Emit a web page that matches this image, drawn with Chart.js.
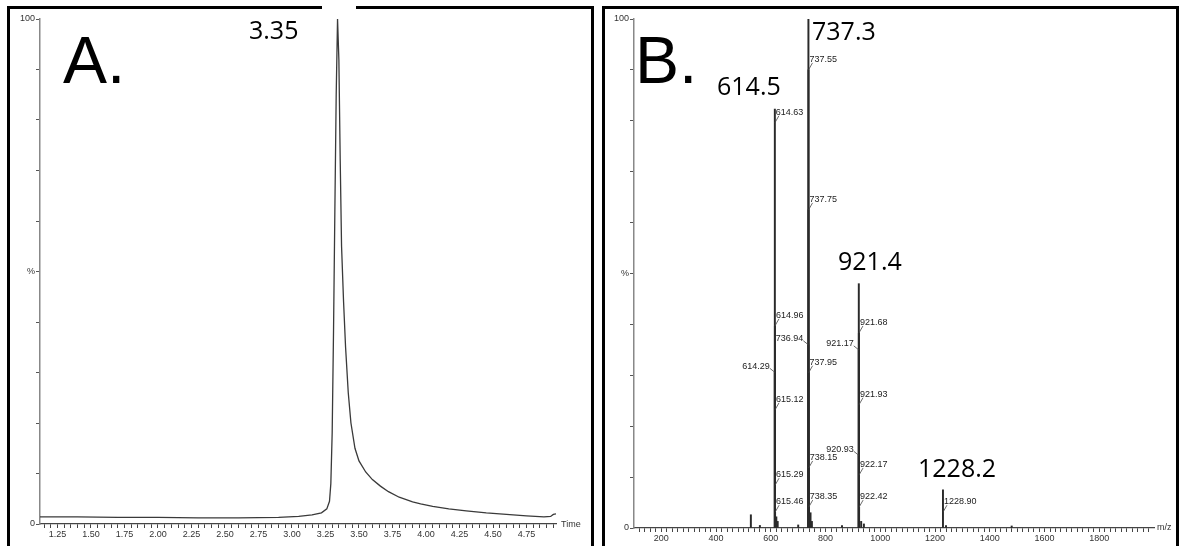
<!DOCTYPE html>
<html>
<head>
<meta charset="utf-8">
<script src="https://cdn.jsdelivr.net/npm/chart.js@4.4.0/dist/chart.umd.min.js"></script>
<style>
  body { margin: 0; background: #fff; width: 1181px; height: 546px; overflow: hidden; position: relative; }
  .panel { position: absolute; border: 3px solid #000; box-sizing: border-box; }
  canvas { position: absolute; }
  .big { position: absolute; font-family: "Open Sans", sans-serif; font-size: 25px; line-height: 1; color: #000; white-space: nowrap; }
  .letter { position: absolute; font-family: "Liberation Sans", Arial, sans-serif; font-size: 66px; line-height: 1; color: #000; }
  .small { position: absolute; font-family: "Liberation Sans Narrow", "Liberation Sans", sans-serif; font-size: 9px; line-height: 1; color: #333; }
</style>
</head>
<body>
<div class="panel" style="left:7px;top:6px;width:587px;height:560px;"></div>
<div class="panel" style="left:602px;top:6px;width:577px;height:560px;"></div>
<div style="position:absolute;left:322px;top:5px;width:34px;height:5px;background:#fff;"></div>

<canvas id="chartA" width="580" height="537" style="left:10px;top:9px;"></canvas>
<canvas id="chartB" width="570" height="537" style="left:605px;top:9px;"></canvas>

<div class="letter" style="left:63px;top:27px;">A.</div>
<div class="letter" style="left:635px;top:27px;">B.</div>
<div class="big" style="left:249px;top:17px;">3.35</div>
<div class="big" style="left:812px;top:18px;">737.3</div>
<div class="big" style="left:717px;top:73px;">614.5</div>
<div class="big" style="left:838px;top:248px;">921.4</div>
<div class="big" style="left:918px;top:455px;">1228.2</div>
<div class="small" style="left:561px;top:520px;">Time</div>
<div class="small" style="left:1157px;top:523px;">m/z</div>

<script>
// chromatogram (panel A)
const timeMin = [1.12, 1.4, 1.7, 2.0, 2.3, 2.6, 2.9, 3.05, 3.15, 3.22, 3.26, 3.28, 3.29, 3.30, 3.31, 3.32, 3.33, 3.34,
  3.35, 3.36, 3.37, 3.385, 3.40, 3.42, 3.44, 3.47, 3.50, 3.55, 3.60, 3.66, 3.72, 3.80, 3.90, 3.96, 4.05, 4.17,
  4.30, 4.45, 4.60, 4.75, 4.88, 4.93, 4.95, 4.97];
const pctA = [1.4, 1.4, 1.3, 1.3, 1.2, 1.2, 1.3, 1.5, 1.8, 2.2, 3.0, 4.5, 8, 18, 38, 62, 85, 100,
  92, 72, 55, 44, 35, 26, 20, 15, 12.5, 10.3, 8.8, 7.5, 6.4, 5.3, 4.4, 4.0, 3.5, 3.0,
  2.6, 2.2, 1.9, 1.6, 1.4, 1.5, 1.9, 2.0];
const timeTicks = ["1.25", "1.50", "1.75", "2.00", "2.25", "2.50", "2.75", "3.00", "3.25", "3.50", "3.75", "4.00", "4.25", "4.50", "4.75"];

// mass spectrum (panel B)
const mzPeaks = [527, 560, 614.29, 614.63, 614.96, 615.12, 615.29, 615.46, 620, 625, 700, 736.94, 737.30, 737.55,
  737.75, 737.95, 738.15, 738.35, 745, 750, 860, 920.93, 921.17, 921.40, 921.68, 921.93, 922.17, 922.42, 930, 940,
  1228.90, 1240, 1480];
const relInt = [2.6, 0.5, 30.6, 82.3, 39.7, 23.2, 8.4, 3.1, 2.2, 1.3, 0.6, 36, 100, 90,
  62.5, 30.5, 11.8, 4.1, 3.0, 1.3, 0.5, 14.3, 35, 48, 38.3, 24.2, 10.4, 4.1, 1.3, 0.8,
  7.5, 0.5, 0.4];
const mzTicks = [200, 400, 600, 800, 1000, 1200, 1400, 1600, 1800];

// peak labels from the instrument software
const peakLabels = ["614.63", "614.96", "614.29", "615.12", "615.29", "615.46",
  "737.55", "737.75", "736.94", "737.95", "738.15", "738.35",
  "921.68", "921.17", "921.93", "920.93", "922.17", "922.42", "1228.90"];
const peakLabelPct = [79.6, 39.7, 30.6, 23.2, 8.4, 3.1,
  90, 62.5, 36, 30.5, 11.8, 4.1,
  38.3, 35, 24.2, 14.3, 10.4, 4.1, 3.1];
const peakLabelLeft = [false, false, true, false, false, false,
  false, false, true, false, false, false,
  false, true, false, true, false, false, false];

const tickFont = { family: "'Liberation Sans Narrow', 'Liberation Sans', sans-serif", size: 9 };

function yAxis(width) {
  return {
    min: 0,
    max: 100,
    afterFit: function (s) { s.width = width; },
    afterBuildTicks: function (s) {
      let t = [];
      for (let v = 0; v <= 100; v += 10) t.push({ value: v });
      s.ticks = t;
    },
    ticks: {
      font: tickFont,
      color: "#333",
      padding: 1,
      autoSkip: false,
      callback: function (v) {
        if (v === 100) return "100";
        if (v === 0) return "0";
        if (v === 50) return "%";
        return "";
      },
    },
    grid: { drawOnChartArea: false, tickLength: 4, color: "#555", lineWidth: 1 },
    border: { color: "#888", width: 1.5 },
  };
}

const labelPlugin = {
  id: "peakLabels",
  afterDatasetsDraw(chart) {
    const ctx = chart.ctx;
    const xs = chart.scales.x;
    const ys = chart.scales.y;
    ctx.save();
    ctx.font = "9px 'Liberation Sans Narrow', 'Liberation Sans', sans-serif";
    ctx.fillStyle = "#222";
    ctx.strokeStyle = "#444";
    ctx.lineWidth = 0.8;
    peakLabels.forEach(function (txt, i) {
      const px = xs.getPixelForValue(parseFloat(txt));
      const py = ys.getPixelForValue(peakLabelPct[i]);
      ctx.beginPath();
      if (peakLabelLeft[i]) {
        ctx.moveTo(px, py);
        ctx.lineTo(px - 5, py - 4);
        ctx.stroke();
        ctx.textAlign = "right";
        ctx.textBaseline = "middle";
        ctx.fillText(txt, px - 5, py - 6);
      } else {
        ctx.moveTo(px, py);
        ctx.lineTo(px + 4, py - 7);
        ctx.stroke();
        ctx.textAlign = "left";
        ctx.textBaseline = "bottom";
        ctx.fillText(txt, px + 1, py - 6);
      }
    });
    ctx.restore();
  },
};

new Chart(document.getElementById("chartA"), {
  type: "line",
  data: {
    datasets: [
      {
        data: timeMin.map((t, i) => ({ x: t, y: pctA[i] })),
        borderColor: "#3a3a3a",
        borderWidth: 1.3,
        pointRadius: 0,
        tension: 0,
      },
    ],
  },
  options: {
    animation: false,
    responsive: false,
    plugins: { legend: { display: false }, tooltip: { enabled: false } },
    layout: { padding: { top: 10, right: 34, left: 0, bottom: 0 } },
    scales: {
      x: {
        type: "linear",
        min: 1.12,
        max: 4.97,
        afterFit: function (s) { s.height = 22; },
        afterBuildTicks: function (s) {
          let t = [];
          for (let v = 115; v <= 495; v += 5) t.push({ value: v / 100 });
          s.ticks = t;
        },
        ticks: {
          font: tickFont,
          color: "#333",
          padding: 1,
          autoSkip: false,
          maxRotation: 0,
          callback: function (v) {
            const s = v.toFixed(2);
            return timeTicks.includes(s) ? s : "";
          },
        },
        grid: { drawOnChartArea: false, tickLength: 4, color: "#444" },
        border: { color: "#444", width: 1.3 },
      },
      y: yAxis(30),
    },
  },
});

new Chart(document.getElementById("chartB"), {
  type: "bar",
  data: {
    datasets: [
      {
        data: mzPeaks.map((m, i) => ({ x: m, y: relInt[i] })),
        backgroundColor: "#2a2a2a",
        barThickness: 1.3,
      },
    ],
  },
  plugins: [labelPlugin],
  options: {
    animation: false,
    responsive: false,
    plugins: { legend: { display: false }, tooltip: { enabled: false } },
    layout: { padding: { top: 10, right: 21, left: 0, bottom: 0 } },
    scales: {
      x: {
        type: "linear",
        min: 100,
        max: 2000,
        offset: false,
        afterFit: function (s) { s.height = 18; },
        afterBuildTicks: function (s) {
          let t = [];
          for (let v = 120; v <= 1980; v += 20) t.push({ value: v });
          s.ticks = t;
        },
        ticks: {
          font: tickFont,
          color: "#333",
          padding: 1,
          autoSkip: false,
          maxRotation: 0,
          callback: function (v) {
            return mzTicks.includes(v) ? String(v) : "";
          },
        },
        grid: { drawOnChartArea: false, tickLength: 4, color: "#444", offset: false },
        border: { color: "#444", width: 1.3 },
      },
      y: yAxis(29),
    },
  },
});
</script>
</body>
</html>
